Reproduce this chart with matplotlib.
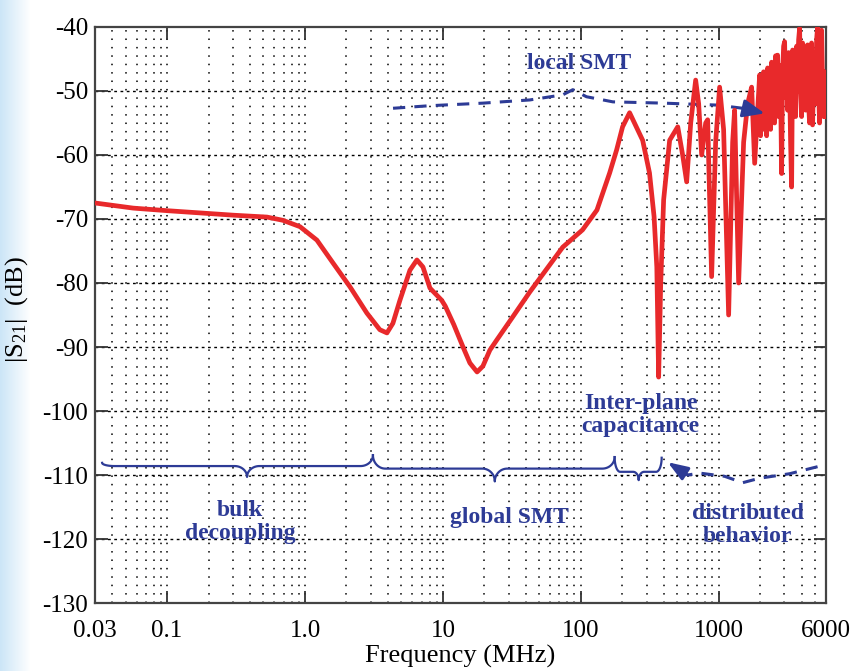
import numpy as np
import matplotlib.pyplot as plt

freq = [0.03, 0.0568, 0.1, 0.3, 0.53, 0.69, 0.92, 1.22, 1.60, 2.12, 2.81,
        3.49, 3.93, 4.34, 4.88, 5.77, 6.48, 7.17, 8.06, 9.8, 10.4, 12.0,
        14.0, 15.7, 17.7, 19.5, 21.9, 24.6, 32.1, 42.7, 74, 103, 131, 162,
        182, 201, 226, 281, 315, 340, 356, 367, 380, 399, 441, 505, 548, 586,
        627, 681, 716, 753, 805, 832, 889, 951, 1016, 1086, 1181, 1263, 1305,
        1396, 1517, 1622, 1734, 1824,
        1982, 2015, 2049, 2084, 2119, 2155, 2191, 2228, 2265, 2303, 2342, 2381,
        2421, 2462, 2504, 2546, 2588, 2632, 2676, 2721, 2767, 2814, 2861, 2909,
        2958, 3008, 3058, 3110, 3162, 3215, 3269, 3324, 3381, 3438, 3495, 3554,
        3614, 3675, 3737, 3800, 3864, 3929, 3994, 4062, 4130, 4199, 4270, 4342,
        4415, 4489, 4564, 4641, 4719, 4798, 4880, 4962, 5045, 5130, 5216, 5304,
        5393, 5484, 5576, 5670, 5765, 5862, 5960]
s21 = [-67.5, -68.3, -68.7, -69.4, -69.7, -70.2, -71.2, -73.3, -76.9, -80.6,
       -84.7, -87.3, -87.8, -86.3, -82.7, -78.0, -76.4, -77.5, -80.8, -82.7,
       -83.6, -86.5, -90.0, -92.5, -93.9, -93.0, -90.5, -88.9, -85.3, -81.4,
       -74.4, -71.7, -68.6, -62.8, -59.2, -55.6, -53.4, -57.7, -62.8, -69.6,
       -77.5, -94.7, -80.0, -67.0, -57.7, -55.6, -60.0, -64.2, -55.0, -48.3,
       -52.0, -60.0, -55.0, -54.5, -79.0, -58.0, -49.4, -56.0, -85.0, -58.0,
       -53.0, -80.0, -58.0, -52.0, -49.4, -61.3,
       -47.5, -57.0, -50.0, -56.0, -47.0, -55.0, -49.0, -57.0, -46.4, -54.0,
       -48.0, -56.0, -45.5, -53.0, -47.0, -55.0, -44.5, -51.0, -44.4, -54.0,
       -46.0, -50.0, -62.9, -47.0, -43.0, -42.3, -51.0, -45.0, -53.0, -44.0,
       -49.0, -58.0, -65.0, -43.6, -52.0, -44.0, -54.0, -43.0, -50.0, -42.0,
       -40.2, -50.0, -54.0, -42.5, -51.0, -45.0, -53.0, -43.0, -42.8, -52.0,
       -55.0, -44.0, -42.5, -55.3, -48.0, -44.0, -52.0, -42.0, -40.0, -50.0,
       -55.0, -45.0, -40.5, -49.0, -54.0, -47.0, -54.0]

# "local SMT" dashed trend
local_f = [4.35, 8.05, 19.5, 42.7, 74, 87.5, 110, 171, 399, 968, 1493]
local_db = [-52.7, -52.3, -51.9, -51.4, -50.6, -49.8, -50.9, -51.7, -51.9, -52.2, -52.7]
local_tip = (2154, -53.5)

# "distributed behavior" dashed trend (drawn right to left)
dist_f = [5214, 3266, 1981, 1493, 1104, 728, 596]
dist_db = [-108.7, -109.8, -110.5, -111.2, -110.2, -109.7, -110.0]
dist_tip = (427, -108.0)

# braces: (left f, left y, base y, tip f, tip y, right f, right y, curl)
braces = [
    (0.0338, -108.1, -108.6, 0.38, -110.3, 3.11, -106.9, 0.09),
    (3.11, -106.9, -109.0, 23.8, -111.0, 176, -107.2, 0.09),
    (176, -107.2, -109.5, 263, -110.8, 386, -107.3, 0.04),
]

labels = [
    ('local SMT', 98, -45.7),
    ('Inter-plane\ncapacitance', 272, -100.6),
    ('bulk\ndecoupling', 0.338, -117.3),
    ('global SMT', 30.6, -116.7),
    ('distributed\nbehavior', 1622, -117.8),
]

xticks = [0.03, 0.1, 1.0, 10, 100, 1000, 6000]
xticklabels = ['0.03', '0.1', '1.0', '10', '100', '1000', '6000']
yticks = list(range(-130, -39, 10))

blue = '#2d3b96'
red = '#e8292b'

plt.rcParams['font.family'] = ['Liberation Serif', 'DejaVu Serif']
plt.rcParams['mathtext.fontset'] = 'custom'
plt.rcParams['mathtext.rm'] = 'Liberation Serif'
plt.rcParams['mathtext.it'] = 'Liberation Serif'


def half_brace(a, top, base, m, tipy, d):
    # end hook, flat part, tip curve in log10 space
    s = np.sign(m - a)
    t = np.linspace(0, np.pi / 2, 20)
    x1 = a + s * d * (1 - np.cos(t))
    y1 = base + (top - base) * (1 - np.sin(t))
    x3 = m - s * d * (1 - np.sin(t))
    y3 = base + (tipy - base) * (1 - np.cos(t))
    return np.concatenate([x1, x3]), np.concatenate([y1, y3])


fig = plt.figure(figsize=(8.62, 6.71), dpi=100)

# light blue strip at the left edge
bg = fig.add_axes([0, 0, 1, 1], zorder=-10)
grad = np.ones((10, 862, 3))
fade = np.clip(np.linspace(0, 1, 862) * 862 / 30.0, 0, 1)
for i, c in enumerate([0.80, 0.90, 0.97]):
    grad[:, :, i] = c + (1 - c) * fade
bg.imshow(grad, aspect='auto', extent=[0, 1, 0, 1])
bg.axis('off')

ax = fig.add_axes([0.1102, 0.1013, 0.848, 0.8585])
ax.set_xscale('log')
ax.set_xlim(0.03, 6000)
ax.set_ylim(-130, -40)

ax.plot(freq, s21, color=red, lw=3.4, solid_joinstyle='round', zorder=5)

ax.plot(local_f, local_db, color=blue, lw=2.2, dashes=(4, 3), zorder=4)
ax.annotate('', xy=local_tip, xytext=(local_f[-1], local_db[-1]),
            arrowprops=dict(arrowstyle='-|>,head_length=0.65,head_width=0.27',
                            color=blue, lw=2.2, mutation_scale=20,
                            shrinkA=0, shrinkB=0), zorder=6)

ax.plot(dist_f, dist_db, color=blue, lw=2.2, dashes=(4, 3), zorder=4)
ax.annotate('', xy=dist_tip, xytext=(dist_f[-1], dist_db[-1]),
            arrowprops=dict(arrowstyle='-|>,head_length=0.6,head_width=0.22',
                            color=blue, lw=2.2, mutation_scale=20,
                            shrinkA=0, shrinkB=0), zorder=6)

for lf, ly, base, tf, ty, rf, ry, d in braces:
    xl, yl = half_brace(np.log10(lf), ly, base, np.log10(tf), ty, d)
    xr, yr = half_brace(np.log10(rf), ry, base, np.log10(tf), ty, d)
    xs = np.concatenate([xl, xr[::-1]])
    ys = np.concatenate([yl, yr[::-1]])
    ax.plot(10 ** xs, ys, color=blue, lw=1.6, zorder=4)

for txt, fx, fy in labels:
    ax.text(fx, fy, txt, color=blue, fontsize=17, fontweight='bold',
            ha='center', va='center', linespacing=1.15, zorder=7)

ax.set_xticks(xticks)
ax.set_xticklabels(xticklabels)
ax.set_xticks([], minor=True)
ax.set_yticks(yticks)
ax.set_yticklabels([str(v) for v in yticks])

# grid: vertical at every log step, horizontal every 10 dB
grid_f = [k * 10.0 ** e for e in range(-2, 4) for k in range(1, 10)]
for g in grid_f:
    if 0.03 < g < 6000:
        ax.axvline(g, color='black', lw=1.1, ls=(0, (1, 4.5)), zorder=1)
for v in yticks[1:-1]:
    ax.axhline(v, color='black', lw=1.0, ls=(0, (2, 2.5)), zorder=1)

ax.tick_params(which='both', direction='in', top=True, right=True,
               length=9, width=1.3, labelsize=18, color='#333333')
ax.tick_params(axis='y', pad=5)
ax.tick_params(axis='x', pad=12)
for s in ax.spines.values():
    s.set_color('#444444')
    s.set_linewidth(1.6)

ax.set_xlabel('Frequency (MHz)', fontsize=19, labelpad=2)
ax.set_ylabel(r'$\mathregular{|S_{21}|}$  (dB)', fontsize=19)
ax.yaxis.set_label_coords(-0.089, 0.51)

fig.savefig('out.png', dpi=100)
